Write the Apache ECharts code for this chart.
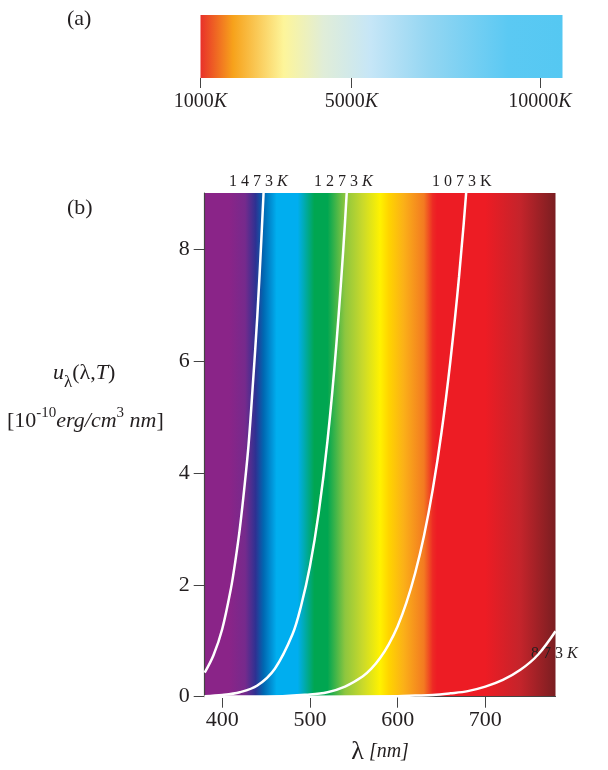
<!DOCTYPE html>
<html><head><meta charset="utf-8">
<script src="https://cdn.jsdelivr.net/npm/echarts@6/dist/echarts.min.js"></script>
<style>html,body{margin:0;padding:0;background:#fff}#c{width:608px;height:770px}</style>
</head><body><div id="c"></div>
<script>
// ---- data ----
const barTicks = [1000, 5000, 10000];
const xTicks = [400, 500, 600, 700];
const yTicks = [0, 2, 4, 6, 8];

const wl1473 = [380, 390, 400, 410, 415, 420, 425, 430, 435, 440, 445, 450];
const u1473  = [0.43, 0.74, 1.21, 1.94, 2.43, 3.0, 3.7, 4.5, 5.6, 6.8, 8.3, 10.0];

const wl1273 = [380, 400, 420, 440, 460, 480, 490, 500, 510, 520, 530, 540, 550];
const u1273  = [0.01, 0.03, 0.08, 0.2, 0.5, 1.11, 1.63, 2.33, 3.29, 4.57, 6.27, 8.48, 11.3];

const wl1073 = [380, 450, 500, 520, 540, 560, 570, 580, 590, 600, 610, 620, 630, 640, 650, 660, 670, 680, 690];
const u1073  = [0, 0, 0.04, 0.08, 0.18, 0.36, 0.50, 0.69, 0.94, 1.26, 1.68, 2.21, 2.87, 3.70, 4.72, 5.98, 7.50, 9.37, 11.6];

const wl873 = [380, 500, 600, 620, 640, 660, 680, 700, 720, 740, 760, 780];
const u873  = [0, 0, 0.01, 0.02, 0.03, 0.06, 0.10, 0.18, 0.30, 0.48, 0.75, 1.17];

const curveNames = ['1473K', '1273K', '1073K', '873K'];

// ---- styles ----
const FONT = '"Liberation Serif", "DejaVu Serif", serif';
const INK = '#231F20';
const LMIN = 380, LMAX = 780;
const spec = [[380,'#8A2488'],[408,'#8A2488'],[426,'#762A8C'],[438,'#2E3192'],[447,'#0067B1'],[462,'#00AEEF'],[486,'#00AEEF'],[505,'#00A651'],[520,'#00A651'],[540,'#8DC63F'],[560,'#C9D92B'],[580,'#FFF200'],[590,'#FFD400'],[607,'#FBB018'],[630,'#F37A21'],[640,'#ED2A24'],[645,'#ED1C24'],[700,'#ED1C24'],[740,'#C4242B'],[780,'#7A1E21']];
const specGrad = new echarts.graphic.LinearGradient(0,0,1,0, spec.map(s=>({offset:(s[0]-LMIN)/(LMAX-LMIN), color:s[1]})));
const barGrad = new echarts.graphic.LinearGradient(0,0,1,0,[
  {offset:0,color:'#E8312A'},{offset:0.09,color:'#F7A21B'},{offset:0.23,color:'#FDF59A'},
  {offset:0.34,color:'#E0EDD8'},{offset:0.47,color:'#C6E6F7'},{offset:0.63,color:'#94D6F2'},
  {offset:0.85,color:'#5BC9F3'},{offset:1,color:'#55C8F2'}]);

const zip = (a,b)=>a.map((x,i)=>[x,b[i]]);
const curves = [zip(wl1473,u1473), zip(wl1273,u1273), zip(wl1073,u1073), zip(wl873,u873)];

const lab = (sz)=>({n:{fontSize:sz,fontFamily:FONT,fill:INK}, i:{fontSize:sz,fontStyle:'italic',fontFamily:FONT,fill:INK}});

const chart = echarts.init(document.getElementById('c'), null, {renderer:'canvas'});
chart.setOption({
  animation:false,
  textStyle:{fontFamily:FONT},
  grid:[
    {left:200.5, top:15, width:362, height:63, show:true, backgroundColor:barGrad, borderWidth:0, containLabel:false, outerBoundsMode:'none'},
    {left:204.7, top:193, right:52.5, bottom:73.3, show:true, backgroundColor:specGrad, borderWidth:0, containLabel:false, outerBoundsMode:'none'}
  ],
  xAxis:[
    {gridIndex:0, type:'value', min:1000, max:10600, splitLine:{show:false},
     axisLine:{show:false},
     axisTick:{show:true, length:10, lineStyle:{color:'#444', width:1}, customValues:barTicks},
     axisLabel:{customValues:barTicks, margin:14, fontSize:20, color:INK, fontFamily:FONT,
       formatter:v=>'{n|'+v+'}{i|K}', rich:{n:{fontSize:20,fontFamily:FONT,color:INK}, i:{fontSize:20,fontStyle:'italic',fontFamily:FONT,color:INK}}}},
    {gridIndex:1, type:'value', min:LMIN, max:LMAX, splitLine:{show:false},
     axisLine:{show:true, lineStyle:{color:'#444', width:1.2}},
     axisTick:{show:true, length:11, lineStyle:{color:'#444', width:1}, customValues:xTicks},
     axisLabel:{customValues:xTicks, margin:13, fontSize:22, color:INK, fontFamily:FONT},
     name:'{l|λ}{i| [nm]}', nameLocation:'middle', nameGap:42,
     nameTextStyle:{rich:{l:{fontSize:26,fontFamily:FONT,color:INK}, i:{fontSize:20,fontStyle:'italic',fontFamily:FONT,color:INK}}}}
  ],
  yAxis:[
    {gridIndex:0, type:'value', show:false, min:0, max:1},
    {gridIndex:1, type:'value', min:0, max:9, splitLine:{show:false},
     axisLine:{show:true, lineStyle:{color:'#444', width:1.2}},
     axisTick:{show:true, length:11, lineStyle:{color:'#444', width:1}, customValues:yTicks},
     axisLabel:{customValues:yTicks, margin:15, fontSize:22, color:INK, fontFamily:FONT}}
  ],
  series: curves.map((d,i)=>({
    name:curveNames[i], type:'line', xAxisIndex:1, yAxisIndex:1, data:d, smooth:0.35,
    showSymbol:false, clip:true, lineStyle:{color:'#fff', width:2.5}
  })),
  graphic:[
    {type:'text', left:67, top:8, style:{text:'(a)', font:'22px '+FONT, fill:INK}},
    {type:'text', left:67, top:197, style:{text:'(b)', font:'22px '+FONT, fill:INK}},
    {type:'text', left:53, top:362, style:{
      text:'{i|u}{s|λ}{n|(λ,}{i|T}{n|)}',
      rich:{i:{fontSize:22,fontStyle:'italic',fontFamily:FONT,fill:INK,verticalAlign:'bottom',padding:[0,0,7,0]},
            s:{fontSize:17,fontFamily:FONT,fill:INK,verticalAlign:'bottom'},
            n:{fontSize:22,fontFamily:FONT,fill:INK,verticalAlign:'bottom',padding:[0,0,7,0]}}}},
    {type:'text', left:7, top:406, style:{
      text:'{n|[10}{p|-10}{i|erg/cm}{p|3}{i| nm}{n|]}',
      rich:{n:{fontSize:22,fontFamily:FONT,fill:INK,verticalAlign:'bottom'},
            i:{fontSize:22,fontStyle:'italic',fontFamily:FONT,fill:INK,verticalAlign:'bottom'},
            p:{fontSize:15,fontFamily:FONT,fill:INK,padding:[0,0,11,0],verticalAlign:'bottom'}}}},
    {type:'text', left:229, top:174, style:{text:'{n|1 4 7 3 }{i|K}', rich:lab(16)}},
    {type:'text', left:314, top:174, style:{text:'{n|1 2 7 3 }{i|K}', rich:lab(16)}},
    {type:'text', left:432, top:174, style:{text:'1 0 7 3 K', font:'16px '+FONT, fill:INK}},
    {type:'text', left:531, top:646, style:{text:'{n|8 7 3 }{i|K}', rich:lab(16)}}
  ]
});
</script></body></html>
